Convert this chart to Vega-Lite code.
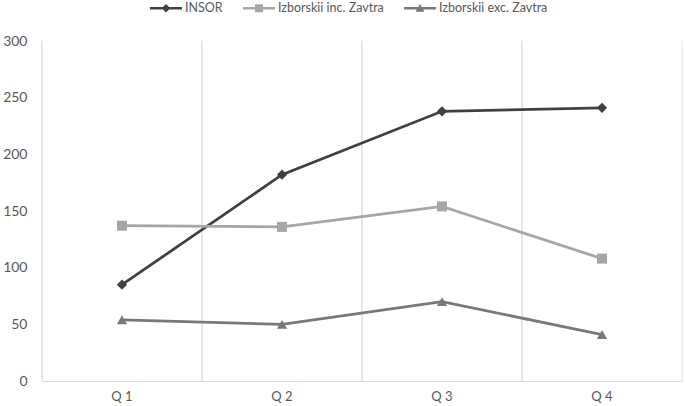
{
  "$schema": "https://vega.github.io/schema/vega-lite/v6.json",
  "width": 640,
  "height": 340,
  "autosize": {"type": "none"},
  "padding": {"left": 42, "top": 41, "right": 3, "bottom": 25},
  "background": "white",
  "config": {
    "view": {"stroke": null},
    "font": "Lato",
    "legend": {
      "orient": "none",
      "direction": "horizontal",
      "legendX": 108,
      "legendY": -49,
      "symbolSize": 1024,
      "symbolStrokeWidth": 0,
      "symbolOpacity": 1,
      "labelOffset": 3,
      "columnPadding": 20,
      "labelFontSize": 12.5,
      "labelColor": "#595959",
      "labelFont": "Lato"
    }
  },
  "data": {
    "values": [
      {"series": "INSOR", "q": "Q 1", "value": 85},
      {"series": "INSOR", "q": "Q 2", "value": 182},
      {"series": "INSOR", "q": "Q 3", "value": 238},
      {"series": "INSOR", "q": "Q 4", "value": 241},
      {"series": "Izborskii inc. Zavtra", "q": "Q 1", "value": 137},
      {"series": "Izborskii inc. Zavtra", "q": "Q 2", "value": 136},
      {"series": "Izborskii inc. Zavtra", "q": "Q 3", "value": 154},
      {"series": "Izborskii inc. Zavtra", "q": "Q 4", "value": 108},
      {"series": "Izborskii exc. Zavtra", "q": "Q 1", "value": 54},
      {"series": "Izborskii exc. Zavtra", "q": "Q 2", "value": 50},
      {"series": "Izborskii exc. Zavtra", "q": "Q 3", "value": 70},
      {"series": "Izborskii exc. Zavtra", "q": "Q 4", "value": 41}
    ]
  },
  "encoding": {
    "x": {
      "field": "q",
      "type": "nominal",
      "sort": ["Q 1", "Q 2", "Q 3", "Q 4"],
      "scale": {"type": "band", "paddingInner": 0, "paddingOuter": 0},
      "axis": {
        "title": null,
        "labelAngle": 0,
        "ticks": false,
        "grid": false,
        "domainColor": "#d9d9d9",
        "domainWidth": 1,
        "labelColor": "#595959",
        "labelFontSize": 13,
        "labelPadding": 9
      }
    }
  },
  "layer": [
    {
      "mark": {"type": "rule", "color": "#e3e3e3", "strokeWidth": 1},
      "encoding": {
        "x": {"field": "q", "type": "nominal", "bandPosition": 0, "sort": ["Q 1", "Q 2", "Q 3", "Q 4"]}
      }
    },
    {
      "transform": [{"filter": "datum.q === 'Q 4' && datum.series === 'INSOR'"}],
      "mark": {"type": "rule", "color": "#e3e3e3", "strokeWidth": 1},
      "encoding": {
        "x": {"field": "q", "type": "nominal", "bandPosition": 1, "sort": ["Q 1", "Q 2", "Q 3", "Q 4"]}
      }
    },
    {
      "mark": {"type": "line", "strokeWidth": 2.75},
      "encoding": {
        "y": {
          "field": "value",
          "type": "quantitative",
          "scale": {"domain": [0, 300]},
          "axis": {
            "title": null,
            "values": [0, 50, 100, 150, 200, 250, 300],
            "grid": false,
            "ticks": false,
            "domain": false,
            "labelColor": "#595959",
            "labelFontSize": 14,
            "labelPadding": 15
          }
        },
        "color": {
          "field": "series",
          "type": "nominal",
          "title": null,
          "scale": {
            "domain": ["INSOR", "Izborskii inc. Zavtra", "Izborskii exc. Zavtra"],
            "range": ["#404040", "#a6a6a6", "#787878"]
          }
        }
      }
    },
    {
      "mark": {"type": "point", "filled": true, "opacity": 0},
      "encoding": {
        "y": {"field": "value", "type": "quantitative"},
        "color": {"field": "series", "type": "nominal", "title": null},
        "shape": {
          "field": "series",
          "type": "nominal",
          "title": null,
          "scale": {
            "domain": ["INSOR", "Izborskii inc. Zavtra", "Izborskii exc. Zavtra"],
            "range": [
              "M-1,-0.08H1V0.08H-1Z M0,-0.27L0.27,0L0,0.27L-0.27,0Z",
              "M-1,-0.08H1V0.08H-1Z M-0.25,-0.25H0.25V0.25H-0.25Z",
              "M-1,-0.08H1V0.08H-1Z M0,-0.26L0.28,0.22L-0.28,0.22Z"
            ]
          }
        }
      }
    },
    {
      "transform": [{"filter": "datum.series === 'INSOR'"}],
      "mark": {"type": "point", "filled": true, "size": 105, "opacity": 1, "shape": "diamond"},
      "encoding": {
        "y": {"field": "value", "type": "quantitative"},
        "color": {"field": "series", "type": "nominal", "title": null}
      }
    },
    {
      "transform": [{"filter": "datum.series === 'Izborskii inc. Zavtra'"}],
      "mark": {"type": "point", "filled": true, "size": 100, "opacity": 1, "shape": "square"},
      "encoding": {
        "y": {"field": "value", "type": "quantitative"},
        "color": {"field": "series", "type": "nominal", "title": null}
      }
    },
    {
      "transform": [{"filter": "datum.series === 'Izborskii exc. Zavtra'"}],
      "mark": {"type": "point", "filled": true, "size": 105, "opacity": 1, "shape": "triangle-up"},
      "encoding": {
        "y": {"field": "value", "type": "quantitative"},
        "color": {"field": "series", "type": "nominal", "title": null}
      }
    }
  ]
}
